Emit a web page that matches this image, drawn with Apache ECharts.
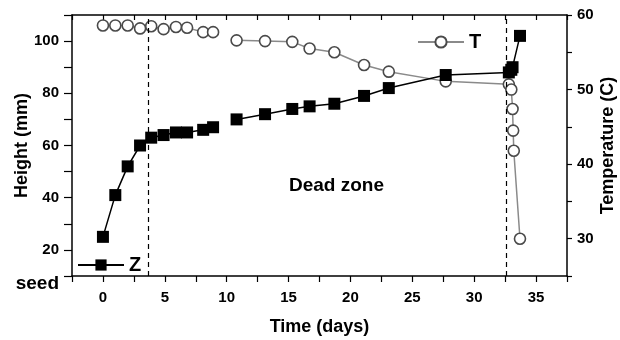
<!DOCTYPE html>
<html><head><meta charset="utf-8">
<script src="https://cdn.jsdelivr.net/npm/echarts@6/dist/echarts.min.js"></script>
<style>html,body{margin:0;padding:0;background:#fff}#c{width:620px;height:340px}</style>
</head><body><div id="c"></div>
<script>
// Height (Z) series
const zDays   = [0, 1, 2, 3, 3.9, 4.9, 5.9, 6.8, 8.1, 8.9, 10.8, 13.1, 15.3, 16.7, 18.7, 21.1, 23.1, 27.7, 32.8, 33.0, 33.1, 33.7];
const zHeight = [25, 41, 52, 60, 63, 64, 65, 65, 66, 67, 70, 72, 74, 75, 76, 79, 82, 87, 88, 89, 90, 102];
// Temperature (T) series
const tDays = [0, 1, 2, 3, 3.9, 4.9, 5.9, 6.8, 8.1, 8.9, 10.8, 13.1, 15.3, 16.7, 18.7, 21.1, 23.1, 27.7, 32.8, 33.0, 33.1, 33.15, 33.2, 33.7];
const tTemp = [58.6, 58.6, 58.6, 58.2, 58.5, 58.1, 58.4, 58.3, 57.7, 57.7, 56.6, 56.5, 56.4, 55.5, 55.0, 53.3, 52.4, 51.1, 50.7, 50.0, 47.4, 44.5, 41.8, 30.0];
// gap in measurements (line break) between these days
const gapDay = 9.9;
// dashed marker lines (days)
const markerDays = [3.68, 32.57];
// axis tick labels
const xTickLabels = [0, 5, 10, 15, 20, 25, 30, 35];
const leftTickLabels = [20, 40, 60, 80, 100];
const rightTickLabels = [30, 40, 50, 60];
const seedValue = 10;

function withGap(days, vals) {
  const out = [];
  days.forEach((d, i) => {
    if (i > 0 && days[i - 1] < gapDay && d > gapDay) out.push([gapDay, null]);
    out.push([d, vals[i]]);
  });
  return out;
}

const FONT = '"Liberation Sans", Arial, sans-serif';
const chart = echarts.init(document.getElementById('c'));
chart.setOption({
  animation: false,
  backgroundColor: '#fff',
  textStyle: { fontFamily: FONT },
  grid: { left: 72, right: 53, top: 15, bottom: 64, containLabel: false, outerBoundsMode: 'none' },
  legend: [
    { data: ['Z'], left: 77, top: 255, padding: 0, itemWidth: 46, itemHeight: 14, itemGap: 5,
      textStyle: { fontFamily: FONT, fontSize: 20, fontWeight: 'bold', color: '#000' } },
    { data: ['T'], left: 417, top: 32, padding: 0, itemWidth: 46, itemHeight: 14,
      textStyle: { fontFamily: FONT, fontSize: 20, fontWeight: 'bold', color: '#000' } }
  ],
  xAxis: [
    { type: 'value', min: -2.5, max: 37.5, interval: 2.5, position: 'bottom',
      name: 'Time (days)', nameLocation: 'middle', nameGap: 42, nameMoveOverlap: false,
      nameTextStyle: { fontFamily: FONT, fontSize: 18, fontWeight: 'bold', color: '#000' },
      axisLine: { show: true, onZero: false, lineStyle: { color: '#000', width: 1.5 } },
      axisTick: { show: true, inside: false, length: 6, lineStyle: { color: '#000', width: 1.2 } },
      axisLabel: { fontFamily: FONT, fontSize: 15, fontWeight: 'bold', color: '#000', margin: 14,
        formatter: v => xTickLabels.includes(v) ? String(v) : '' },
      splitLine: { show: false } },
    { type: 'value', min: -2.5, max: 37.5, interval: 2.5, position: 'top',
      axisLine: { show: true, onZero: false, lineStyle: { color: '#000', width: 1.5 } },
      axisTick: { show: true, inside: true, length: 5, lineStyle: { color: '#000', width: 1.2 } },
      axisLabel: { show: false }, splitLine: { show: false } }
  ],
  yAxis: [
    { type: 'value', min: 10, max: 110, interval: 10, position: 'left',
      name: 'Height (mm)', nameLocation: 'middle', nameGap: 41, nameRotate: 90, nameMoveOverlap: false,
      nameTextStyle: { fontFamily: FONT, fontSize: 18, fontWeight: 'bold', color: '#000' },
      axisLine: { show: true, onZero: false, lineStyle: { color: '#000', width: 1.5 } },
      axisTick: { show: true, inside: false, length: 8, lineStyle: { color: '#000', width: 1.2 } },
      axisLabel: { fontFamily: FONT, fontSize: 15, fontWeight: 'bold', color: '#000', margin: 13,
        formatter: v => v === seedValue ? '{s|seed}' : (leftTickLabels.includes(v) ? String(v) : ''),
        rich: { s: { fontFamily: FONT, fontSize: 19, fontWeight: 'bold', color: '#000', padding: [16, 0, 0, 0] } } },
      splitLine: { show: false } },
    { type: 'value', min: 25, max: 60, interval: 5, position: 'right',
      name: 'Temperature (C)', nameLocation: 'middle', nameGap: 32, nameRotate: 90, nameMoveOverlap: false,
      nameTextStyle: { fontFamily: FONT, fontSize: 18, fontWeight: 'bold', color: '#000' },
      axisLine: { show: true, onZero: false, lineStyle: { color: '#000', width: 1.5 } },
      axisTick: { show: true, inside: false, length: 5, lineStyle: { color: '#000', width: 1.2 } },
      axisLabel: { fontFamily: FONT, fontSize: 15, fontWeight: 'bold', color: '#000', margin: 10,
        formatter: v => rightTickLabels.includes(v) ? String(v) : '' },
      splitLine: { show: false } }
  ],
  graphic: [
    { type: 'text', left: 289, top: 176,
      style: { text: 'Dead zone', fontFamily: FONT, fontSize: 19, fontWeight: 'bold', fill: '#000' } }
  ],
  series: [
    { name: 'T', type: 'line', xAxisIndex: 0, yAxisIndex: 1, data: withGap(tDays, tTemp),
      symbol: 'circle', symbolSize: 11, connectNulls: false,
      lineStyle: { color: '#8a8a8a', width: 1.5 },
      itemStyle: { color: '#fff', borderColor: '#4a4a4a', borderWidth: 1.6 },
      z: 3 },
    { name: 'Z', type: 'line', xAxisIndex: 0, yAxisIndex: 0, data: withGap(zDays, zHeight),
      symbol: 'rect', symbolSize: 12, connectNulls: false,
      lineStyle: { color: '#000', width: 1.5 },
      itemStyle: { color: '#000', borderColor: '#000', borderWidth: 0 },
      z: 4,
      markLine: { silent: true, symbol: ['none', 'none'], label: { show: false },
        lineStyle: { color: '#000', type: [5, 4], width: 1.2 },
        data: markerDays.map(d => ({ xAxis: d })) } }
  ]
});
</script></body></html>
